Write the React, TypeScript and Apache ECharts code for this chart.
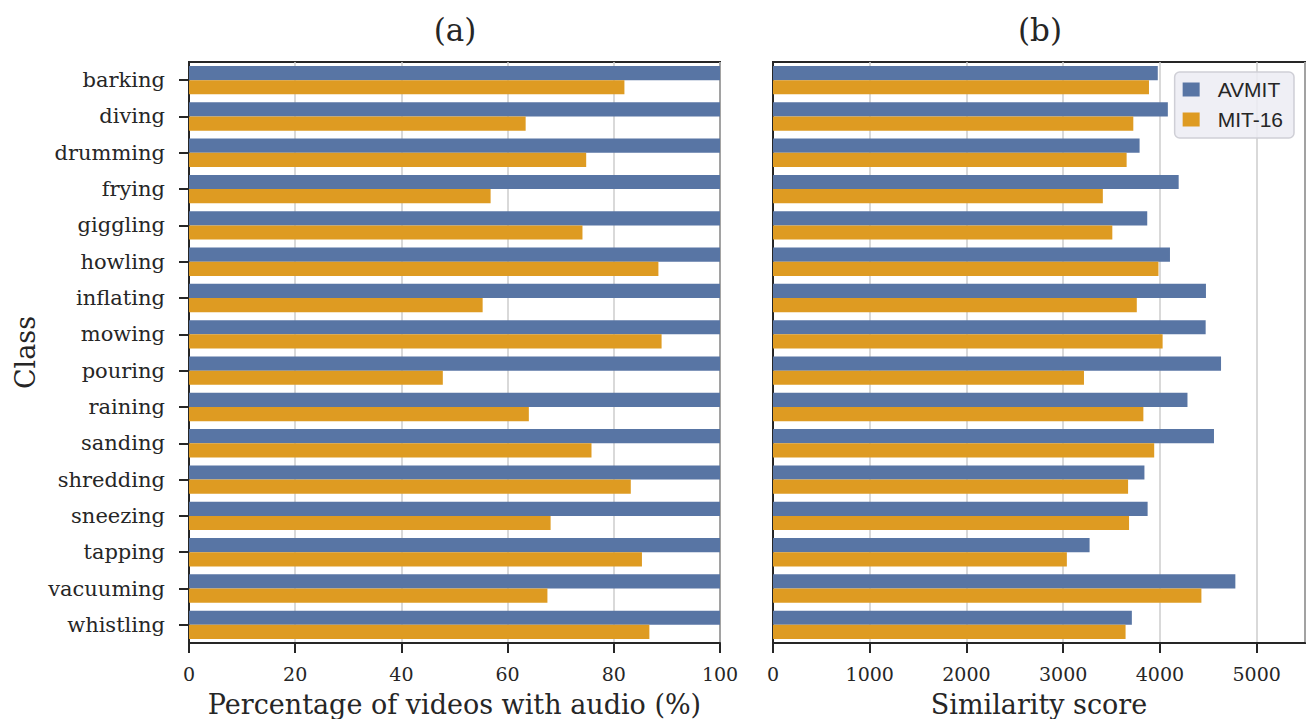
import React, { useEffect, useRef } from "react";
import * as echarts from "echarts";

const classes = [
  "barking", "diving", "drumming", "frying", "giggling", "howling", "inflating", "mowing",
  "pouring", "raining", "sanding", "shredding", "sneezing", "tapping", "vacuuming", "whistling",
];
const pctAVMIT = [100, 100, 100, 100, 100, 100, 100, 100, 100, 100, 100, 100, 100, 100, 100, 100];
const pctMIT16 = [82.0, 63.4, 74.8, 56.8, 74.1, 88.4, 55.3, 89.0, 47.8, 64.0, 75.8, 83.2, 68.1, 85.3, 67.5, 86.7];
const simAVMIT = [3978, 4082, 3790, 4194, 3869, 4104, 4476, 4473, 4632, 4285, 4559, 3840, 3873, 3273, 4780, 3710];
const simMIT16 = [3887, 3725, 3656, 3410, 3508, 3985, 3761, 4028, 3215, 3829, 3941, 3671, 3681, 3038, 4429, 3645];

const BLUE = "#5875a4";
const ORANGE = "#de9b22";
const SERIF = "'DejaVu Serif', serif";
const INK = "#262626";

export default function App() {
  const ref = useRef<HTMLDivElement>(null);
  useEffect(() => {
    if (!ref.current) return;
    const chart = echarts.init(ref.current, null, { renderer: "svg" });
    const xBase = (name: string, max: number, interval: number, gridIndex: number, showMax: boolean) => ({
      type: "value",
      gridIndex,
      min: 0,
      max,
      interval,
      name,
      nameLocation: "middle",
      nameGap: 48,
      nameTextStyle: { fontFamily: SERIF, fontSize: 27, color: INK },
      axisLine: { show: true, onZero: false, lineStyle: { color: INK, width: 2 } },
      axisTick: { show: true, length: 10, lineStyle: { color: INK, width: 2 } },
      axisLabel: {
        fontFamily: SERIF, fontSize: 19, color: INK, margin: 21,
        showMaxLabel: showMax,
        formatter: (v: number) => String(v),
      },
      splitLine: { show: true, lineStyle: { color: "#cccccc", width: 1.5 } },
    });
    const yBase = (gridIndex: number, showLabels: boolean) => ({
      type: "category",
      gridIndex,
      data: classes,
      inverse: true,
      name: showLabels ? "Class" : "",
      nameLocation: "middle",
      nameGap: 150,
      nameRotate: 90,
      nameTextStyle: { fontFamily: SERIF, fontSize: 27, color: INK },
      axisLine: { show: true, lineStyle: { color: INK, width: 2 } },
      axisTick: { show: showLabels, alignWithLabel: true, length: 10, lineStyle: { color: INK, width: 2 } },
      axisLabel: { show: showLabels, fontFamily: SERIF, fontSize: 21, color: INK, margin: 24 },
      splitLine: { show: false },
    });
    const barCommon = { type: "bar", barGap: "0%", barCategoryGap: "22%" };
    const gridCommon = {
      top: 62, bottom: 76, show: true, borderColor: INK, borderWidth: 2,
      containLabel: false, outerBoundsMode: "none",
    };
    chart.setOption({
      animation: false,
      backgroundColor: "#ffffff",
      title: [
        { text: "(a)", left: 450, top: 9, textAlign: "center", textStyle: { fontFamily: SERIF, fontSize: 31, fontWeight: "normal", color: INK } },
        { text: "(b)", left: 1035, top: 9, textAlign: "center", textStyle: { fontFamily: SERIF, fontSize: 31, fontWeight: "normal", color: INK } },
      ],
      legend: {
        data: ["AVMIT", "MIT-16"],
        orient: "vertical",
        right: 17,
        top: 72,
        itemWidth: 17,
        itemHeight: 14,
        itemGap: 9,
        padding: [7, 11, 8, 8],
        backgroundColor: "rgba(236,236,243,0.85)",
        borderColor: "#cfcfd6",
        borderWidth: 1.5,
        borderRadius: 5,
        icon: "rect",
        textStyle: { fontFamily: "'Liberation Sans', Arial, sans-serif", fontSize: 21, color: INK, padding: [0, 0, 0, 13] },
      },
      grid: [
        { ...gridCommon, left: 189, right: 591 },
        { ...gridCommon, left: 773, right: 6 },
      ],
      xAxis: [
        xBase("Percentage of videos with audio (%)", 100, 20, 0, true),
        xBase("Similarity score", 5500, 1000, 1, false),
      ],
      yAxis: [yBase(0, true), yBase(1, false)],
      series: [
        { ...barCommon, name: "AVMIT", xAxisIndex: 0, yAxisIndex: 0, data: pctAVMIT, itemStyle: { color: BLUE } },
        { ...barCommon, name: "MIT-16", xAxisIndex: 0, yAxisIndex: 0, data: pctMIT16, itemStyle: { color: ORANGE } },
        { ...barCommon, name: "AVMIT", xAxisIndex: 1, yAxisIndex: 1, data: simAVMIT, itemStyle: { color: BLUE } },
        { ...barCommon, name: "MIT-16", xAxisIndex: 1, yAxisIndex: 1, data: simMIT16, itemStyle: { color: ORANGE } },
      ],
    });
    return () => chart.dispose();
  }, []);
  return <div ref={ref} style={{ width: 1311, height: 719, position: "absolute", left: 0, top: 0 }} />;
}
